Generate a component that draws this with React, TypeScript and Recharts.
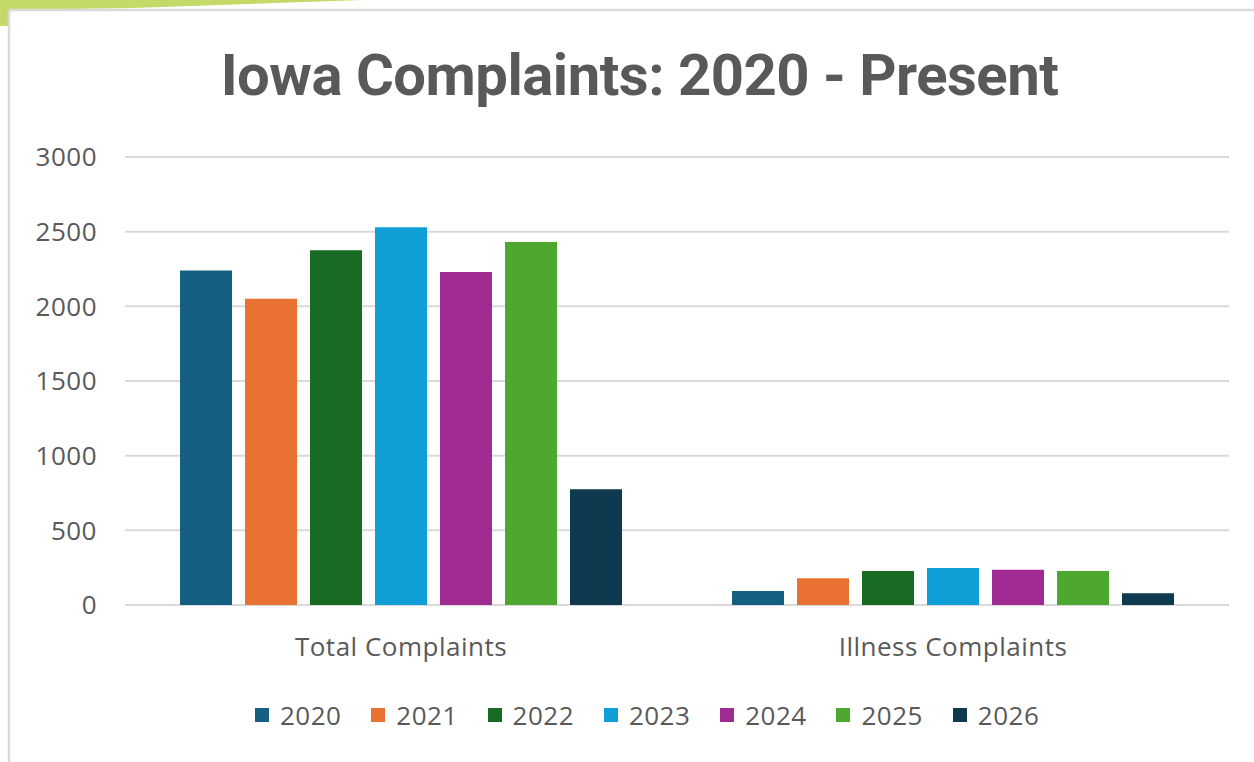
import { BarChart, Bar, XAxis, YAxis, CartesianGrid, Legend } from "recharts";

const categories = ["Total Complaints", "Illness Complaints"];
const years = ["2020", "2021", "2022", "2023", "2024", "2025", "2026"];
const totalComplaints = [2240, 2050, 2375, 2530, 2230, 2430, 775];
const illnessComplaints = [94, 179, 228, 248, 236, 228, 78];
const yTicks = [0, 500, 1000, 1500, 2000, 2500, 3000];
const colors = ["#156082", "#E97132", "#196B24", "#0F9ED5", "#A02B93", "#4EA72E", "#0D3A4E"];

const seriesByCategory = [totalComplaints, illnessComplaints];

const data = categories.map((name, ci) => {
  const row: Record<string, string | number> = { name };
  years.forEach((y, yi) => {
    row[y] = seriesByCategory[ci][yi];
  });
  return row;
});

const textColor = "#595959";
const font = "'Open Sans', 'Liberation Sans', sans-serif";
const tickStyle = { fill: textColor, fontSize: 26, fontFamily: font, letterSpacing: 0.5 };

function LegendContent() {
  return (
    <div style={{ display: "flex", alignItems: "center", paddingLeft: 255, height: 34 }}>
      {years.map((y, i) => (
        <div key={y} style={{ display: "flex", alignItems: "center", width: 116.3 }}>
          <span style={{ width: 14, height: 14, background: colors[i], display: "inline-block", marginRight: 11 }} />
          <span style={{ fontFamily: font, fontSize: 26, letterSpacing: 0.5, color: textColor }}>{y}</span>
        </div>
      ))}
    </div>
  );
}

export default function App() {
  return (
    <div style={{ position: "absolute", left: 0, top: 0, width: 1254, height: 762, background: "#fff", overflow: "hidden" }}>
      <svg width={1254} height={762} style={{ position: "absolute", left: 0, top: 0 }}>
        <polygon points="0,0 362,0 133,8 10,10 10,26 0,26" fill="#C3D968" />
        <line x1={9} y1={10} x2={9} y2={762} stroke="#d9d9d9" strokeWidth={2.5} />
        <line x1={9} y1={10} x2={1254} y2={10} stroke="#d9d9d9" strokeWidth={2.5} />
      </svg>
      <div
        style={{
          position: "absolute",
          left: 0,
          top: 40,
          width: 1279,
          textAlign: "center",
          fontFamily: "Roboto, sans-serif",
          fontWeight: 700,
          fontSize: 58,
          letterSpacing: -0.5,
          color: textColor,
          lineHeight: "70px",
        }}
      >
        Iowa Complaints: 2020 - Present
      </div>
      <div style={{ position: "absolute", left: 0, top: 0 }}>
        <BarChart
          width={1254}
          height={762}
          data={data}
          margin={{ top: 157, right: 25, left: 25, bottom: 63 }}
          barCategoryGap={55}
          barGap={13}
        >
          <CartesianGrid vertical={false} stroke="#d9d9d9" strokeWidth={2} />
          <XAxis
            dataKey="name"
            axisLine={false}
            tickLine={false}
            tickSize={0}
            tickMargin={33}
            height={60}
            tick={tickStyle}
          />
          <YAxis
            domain={[0, 3000]}
            ticks={yTicks}
            axisLine={false}
            tickLine={false}
            tickSize={0}
            tickMargin={28}
            width={100}
            tick={tickStyle}
          />
          <Legend content={<LegendContent />} wrapperStyle={{ top: 698, left: 0, width: 1254 }} />
          {years.map((y, i) => (
            <Bar key={y} dataKey={y} fill={colors[i]} isAnimationActive={false} />
          ))}
        </BarChart>
      </div>
    </div>
  );
}
